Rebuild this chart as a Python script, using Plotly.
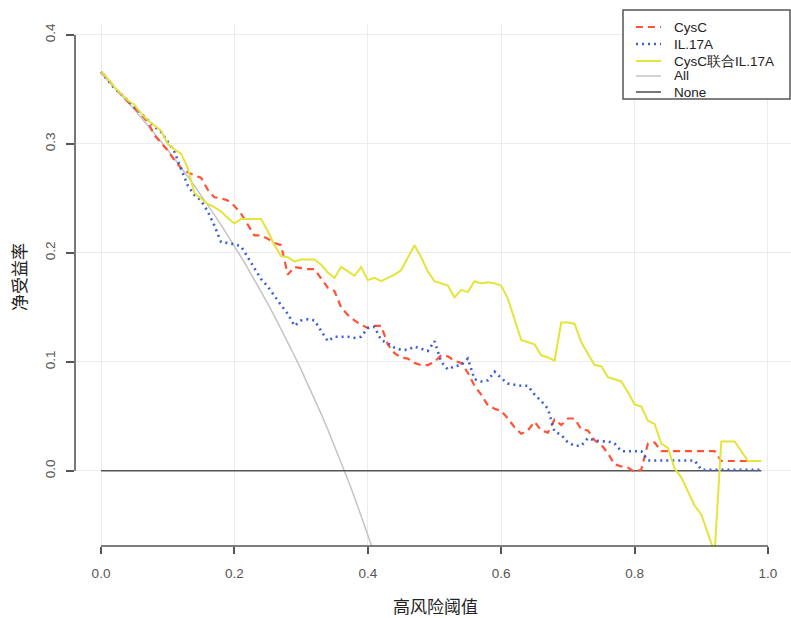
import plotly.graph_objects as go

thresholds = [round(i * 0.01, 2) for i in range(100)]

cysc = [0.366, 0.360, 0.352, 0.345, 0.339, 0.333, 0.327, 0.320, 0.308, 0.301,
        0.294, 0.285, 0.278, 0.274, 0.271, 0.269, 0.258, 0.251, 0.250, 0.248,
        0.243, 0.236, 0.226, 0.216, 0.216, 0.213, 0.209, 0.207, 0.180, 0.187,
        0.186, 0.185, 0.185, 0.176, 0.168, 0.165, 0.150, 0.143, 0.138, 0.134,
        0.131, 0.133, 0.133, 0.116, 0.108, 0.104, 0.103, 0.099, 0.097, 0.097,
        0.100, 0.106, 0.105, 0.101, 0.099, 0.090, 0.078, 0.070, 0.060, 0.057,
        0.055, 0.048, 0.040, 0.034, 0.037, 0.045, 0.037, 0.035, 0.047, 0.042,
        0.048, 0.048, 0.038, 0.037, 0.028, 0.024, 0.016, 0.006, 0.004, 0.003,
        -0.001, 0.001, 0.025, 0.026, 0.018, 0.018, 0.018, 0.018, 0.018, 0.018,
        0.018, 0.018, 0.018, 0.009, 0.009, 0.009, 0.009, 0.009, 0.009, 0.009]

il17a = [0.366, 0.358, 0.351, 0.346, 0.340, 0.334, 0.328, 0.322, 0.316, 0.311,
         0.302, 0.293, 0.277, 0.262, 0.253, 0.248, 0.238, 0.225, 0.210, 0.209,
         0.208, 0.206, 0.196, 0.187, 0.176, 0.169, 0.160, 0.152, 0.144, 0.133,
         0.138, 0.139, 0.138, 0.128, 0.119, 0.123, 0.123, 0.123, 0.122, 0.123,
         0.131, 0.132, 0.120, 0.117, 0.113, 0.111, 0.111, 0.114, 0.112, 0.110,
         0.119, 0.100, 0.093, 0.096, 0.097, 0.103, 0.084, 0.082, 0.083, 0.091,
         0.085, 0.080, 0.079, 0.078, 0.078, 0.070, 0.064, 0.057, 0.036, 0.033,
         0.026, 0.023, 0.023, 0.030, 0.028, 0.027, 0.027, 0.025, 0.018, 0.018,
         0.018, 0.018, 0.0095, 0.0095, 0.0095, 0.0095, 0.0095, 0.0095, 0.0095, 0.0095,
         0.001, 0.001, 0.001, 0.001, 0.001, 0.001, 0.001, 0.001, 0.001, 0.001]

combined = [0.366, 0.360, 0.352, 0.346, 0.340, 0.336, 0.328, 0.322, 0.317, 0.312,
            0.300, 0.295, 0.291, 0.278, 0.255, 0.250, 0.245, 0.242, 0.238, 0.232,
            0.227, 0.231, 0.231, 0.231, 0.231, 0.220, 0.207, 0.197, 0.196, 0.192,
            0.194, 0.194, 0.194, 0.189, 0.182, 0.177, 0.187, 0.183, 0.179, 0.187,
            0.175, 0.177, 0.174, 0.177, 0.180, 0.184, 0.195, 0.207, 0.196, 0.183,
            0.174, 0.172, 0.170, 0.159, 0.166, 0.164, 0.174, 0.172, 0.173, 0.172,
            0.170, 0.158, 0.140, 0.120, 0.118, 0.116, 0.106, 0.104, 0.101, 0.136,
            0.136, 0.135, 0.118, 0.107, 0.097, 0.096, 0.086, 0.084, 0.082, 0.072,
            0.061, 0.059, 0.046, 0.043, 0.025, 0.021, 0.002, -0.006, -0.019, -0.032,
            -0.040, -0.058, -0.075, 0.027, 0.027, 0.027, 0.018, 0.009, 0.009, 0.009]

all_thr = thresholds[:42]
treat_all = [0.3650, 0.3586, 0.3520, 0.3454, 0.3385, 0.3316, 0.3245, 0.3172, 0.3098, 0.3022,
             0.2944, 0.2865, 0.2784, 0.2701, 0.2616, 0.2529, 0.2440, 0.2349, 0.2256, 0.2161,
             0.2063, 0.1962, 0.1859, 0.1753, 0.1645, 0.1533, 0.1419, 0.1301, 0.1181, 0.1056,
             0.0929, 0.0797, 0.0662, 0.0522, 0.0379, 0.0231, 0.0078, -0.0079, -0.0242, -0.0410,
             -0.0583, -0.0763]

treat_none = [0.0] * 100

x_ticks = [0.0, 0.2, 0.4, 0.6, 0.8, 1.0]
x_tick_text = ["0.0", "0.2", "0.4", "0.6", "0.8", "1.0"]
y_ticks = [0.0, 0.1, 0.2, 0.3, 0.4]
y_tick_text = ["0.0", "0.1", "0.2", "0.3", "0.4"]

names = ["CysC", "IL.17A", "CysC联合IL.17A", "All", "None"]
colors = ["#ff5236", "#3d5fd6", "#e4e43a", "#c4c4c4", "#555555"]
dashes = ["7px,5px", "2px,4px", "solid", "solid", "solid"]
widths = [2.2, 2.6, 2.0, 1.5, 1.6]

W, H = 791, 618
L, R, T, B = 75, 0, 24, 72

fig = go.Figure()
series = [(thresholds, cysc), (thresholds, il17a), (thresholds, combined),
          (all_thr, treat_all), (thresholds, treat_none)]
order = [3, 4, 0, 1, 2]
for i in order:
    xs, ys = series[i]
    fig.add_trace(go.Scatter(x=xs, y=ys, mode="lines", name=names[i],
                             line=dict(color=colors[i], width=widths[i], dash=dashes[i]),
                             showlegend=False, hoverinfo="skip"))

tickfont = dict(family="Liberation Sans, Arial, sans-serif", size=13.5, color="#555555")
fig.update_layout(
    width=W, height=H,
    margin=dict(l=L, r=R, t=T, b=B, pad=0),
    plot_bgcolor="white", paper_bgcolor="white",
    xaxis=dict(range=[-0.039, 1.0345], tickvals=x_ticks, ticktext=x_tick_text,
               showgrid=True, gridcolor="#ececec", gridwidth=1, zeroline=False,
               showline=False, ticks="outside", ticklen=7, tickwidth=1.5,
               tickcolor="#555555", tickfont=tickfont, ticklabelstandoff=8),
    yaxis=dict(range=[-0.069, 0.41], tickvals=y_ticks, ticktext=y_tick_text,
               showgrid=True, gridcolor="#ececec", gridwidth=1, zeroline=False,
               showline=False, ticks="outside", ticklen=8, tickwidth=1.5,
               tickcolor="#555555", tickfont=tickfont, tickangle=-90,
               ticklabelstandoff=6),
)

# R-style axis lines spanning only the tick range
fig.add_shape(type="line", xref="x", yref="paper", x0=0, x1=1, y0=0, y1=0,
              line=dict(color="#555555", width=1.6))
fig.add_shape(type="line", xref="paper", yref="y", x0=0, x1=0, y0=0, y1=0.4,
              line=dict(color="#555555", width=1.6))

# axis titles
cjk = "Noto Sans CJK SC, sans-serif"
pw, ph = W - L - R, H - T - B
fig.add_annotation(text="高风险阈值", xref="paper", yref="paper",
                   x=(435 - L) / pw, y=(546 - 605) / ph, showarrow=False,
                   font=dict(family=cjk, size=17, color="#222222"),
                   xanchor="center", yanchor="middle")
fig.add_annotation(text="净受益率", xref="paper", yref="paper",
                   x=(18 - L) / pw, y=(546 - 277) / ph, showarrow=False,
                   textangle=-90, font=dict(family=cjk, size=17, color="#222222"),
                   xanchor="center", yanchor="middle")

# manual legend box
def px_x(p):
    return (p - L) / pw

def px_y(p):
    return (H - B - p) / ph

fig.add_shape(type="rect", xref="paper", yref="paper",
              x0=px_x(623), x1=px_x(790), y0=px_y(99), y1=px_y(10),
              line=dict(color="#555555", width=1.5), fillcolor="white", layer="above")
leg_y = [27, 44, 61, 76, 92]
for i, yy in enumerate(leg_y):
    fig.add_shape(type="line", xref="paper", yref="paper",
                  x0=px_x(636), x1=px_x(661), y0=px_y(yy), y1=px_y(yy),
                  line=dict(color=colors[i], width=widths[i], dash=dashes[i]),
                  layer="above")
    fig.add_annotation(text=names[i], xref="paper", yref="paper",
                       x=px_x(672), y=px_y(yy), showarrow=False,
                       xanchor="left", yanchor="middle",
                       font=dict(family="Liberation Sans, Arial, sans-serif",
                                 size=13.5, color="#222222"))

fig.write_html("out.html", config={"displayModeBar": False},
               post_script="document.body.style.margin='0px';")
